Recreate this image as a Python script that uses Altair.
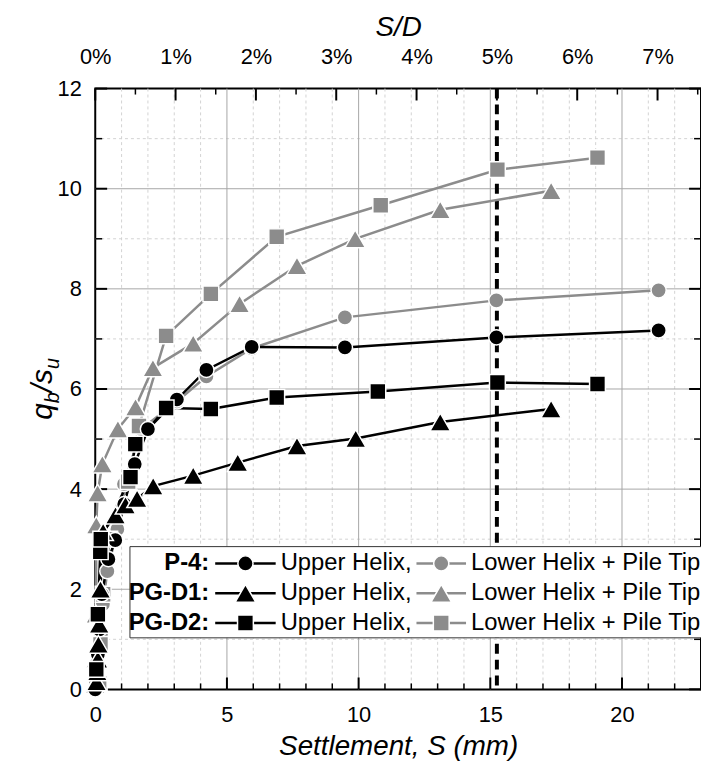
import altair as alt
import pandas as pd

# ---------------- data ----------------
D_MM = 305.0          # pile diameter used for the S/D axis
X_MAX = 23.0
Y_MAX = 12.0
SD_LINE_PCT = 5.0     # dashed reference line at S/D = 5 %

# P-4
p4_upper_s = [0.0, 0.05, 0.10, 0.16, 0.25, 0.50, 0.76, 1.10, 1.50, 2.00, 3.10, 4.22, 5.94, 9.48, 15.23, 21.39]
p4_upper_q = [0.0, 0.30, 0.70, 1.20, 1.90, 2.60, 2.98, 3.70, 4.50, 5.20, 5.79, 6.38, 6.84, 6.83, 7.03, 7.17]
p4_lower_s = [0.02, 0.10, 0.22, 0.29, 0.46, 0.84, 1.09, 1.75, 3.10, 4.22, 5.94, 9.48, 15.23, 21.39]
p4_lower_q = [0.10, 0.50, 1.10, 1.70, 2.36, 3.20, 4.10, 5.20, 5.75, 6.25, 6.81, 7.43, 7.77, 7.97]
# PG-D1
d1_upper_s = [0.05, 0.08, 0.10, 0.12, 0.15, 0.20, 0.30, 0.77, 1.15, 1.59, 2.20, 3.72, 5.41, 7.66, 9.89, 13.10, 17.31]
d1_upper_q = [0.15, 0.35, 0.60, 0.90, 1.30, 2.00, 3.15, 3.48, 3.68, 3.81, 4.06, 4.27, 4.53, 4.86, 5.01, 5.34, 5.60]
d1_lower_s = [0.00, 0.02, 0.03, 0.04, 0.09, 0.27, 0.86, 1.53, 2.19, 3.72, 5.48, 7.66, 9.87, 13.10, 17.31]
d1_lower_q = [0.10, 0.60, 1.50, 3.28, 3.92, 4.50, 5.20, 5.64, 6.42, 6.91, 7.70, 8.46, 9.00, 9.58, 9.96]
# PG-D2
d2_upper_s = [0.04, 0.10, 0.19, 0.21, 1.34, 1.52, 2.69, 4.39, 6.89, 10.73, 15.27, 19.07]
d2_upper_q = [0.40, 1.50, 2.75, 3.00, 4.24, 4.90, 5.62, 5.60, 5.83, 5.95, 6.13, 6.10]
d2_lower_s = [0.15, 0.20, 0.30, 0.55, 1.25, 1.66, 2.69, 4.39, 6.89, 10.84, 15.27, 19.07]
d2_lower_q = [0.12, 0.90, 1.90, 3.00, 4.15, 5.26, 7.06, 7.90, 9.04, 9.67, 10.38, 10.62]

piles = ["P-4", "PG-D1", "PG-D2"]
pile_shapes = ["circle", "triangle-up", "square"]
pile_sizes = [235, 430, 255]
tone_labels = {"upper": "Upper Helix,", "lower": "Lower Helix + Pile Tip"}

x_major = [0, 5, 10, 15, 20]
x_minor = [v for v in range(1, 23) if v % 5]
y_major = [0, 2, 4, 6, 8, 10, 12]
y_minor = [1, 3, 5, 7, 9, 11]
pct_major = [0, 1, 2, 3, 4, 5, 6, 7]
pct_minor = [0.5, 1.5, 2.5, 3.5, 4.5, 5.5, 6.5, 7.5]

series = [
    ("P-4", "lower", p4_lower_s, p4_lower_q),
    ("PG-D1", "lower", d1_lower_s, d1_lower_q),
    ("PG-D2", "lower", d2_lower_s, d2_lower_q),
    ("P-4", "upper", p4_upper_s, p4_upper_q),
    ("PG-D1", "upper", d1_upper_s, d1_upper_q),
    ("PG-D2", "upper", d2_upper_s, d2_upper_q),
]

rows = []
for pile, tone, s_list, q_list in series:
    for i, (s, q) in enumerate(zip(s_list, q_list)):
        rows.append({"pile": pile, "tone": tone, "series": f"{pile} {tone}", "idx": i, "S": s, "q": q})
df = pd.DataFrame(rows)

# ---------------- styling ----------------
FONT = "Liberation Sans"
BLACK = "#000000"
GRAY = "#8c8c8c"
W, H = 611, 606

x_scale = alt.Scale(domain=[0, X_MAX], nice=False, zero=False)
y_scale = alt.Scale(domain=[0, Y_MAX], nice=False, zero=False)
x_axis = alt.Axis(values=x_major, title="Settlement, S (mm)", labelFont=FONT, labelFontSize=22,
                  labelColor=BLACK, labelPadding=15, labelFlush=False, labelOverlap=False,
                  ticks=False, tickSize=0, domain=False, grid=False,
                  titleFont=FONT, titleFontSize=28, titleFontStyle="italic", titleFontWeight="normal",
                  titleColor=BLACK, titlePadding=8)
y_axis = alt.Axis(values=y_major, title=None, labelFont=FONT, labelFontSize=22, labelColor=BLACK,
                  labelPadding=14, labelOverlap=False, ticks=False, tickSize=0, domain=False, grid=False)


def X():
    return alt.X("S:Q", scale=x_scale, axis=x_axis)


def Y():
    return alt.Y("q:Q", scale=y_scale, axis=y_axis)


layers = []

# grid
layers.append(alt.Chart(pd.DataFrame({"S": x_minor})).mark_rule(color="#d2d2d2", strokeWidth=1, strokeDash=[3, 3])
              .encode(x=X(), y=alt.value(0), y2=alt.value(H)))
layers.append(alt.Chart(pd.DataFrame({"q": y_minor})).mark_rule(color="#d2d2d2", strokeWidth=1, strokeDash=[3, 3])
              .encode(y=Y(), x=alt.value(0), x2=alt.value(W)))
layers.append(alt.Chart(pd.DataFrame({"S": x_major[1:]})).mark_rule(color="#a6a6a6", strokeWidth=1)
              .encode(x=X(), y=alt.value(0), y2=alt.value(H)))
layers.append(alt.Chart(pd.DataFrame({"q": y_major[1:-1]})).mark_rule(color="#a6a6a6", strokeWidth=1)
              .encode(y=Y(), x=alt.value(0), x2=alt.value(W)))

# ticks (inward)
layers.append(alt.Chart(pd.DataFrame({"S": x_major})).mark_rule(color=BLACK, strokeWidth=2)
              .encode(x=X(), y=alt.value(H), y2=alt.value(H - 12)))
layers.append(alt.Chart(pd.DataFrame({"S": x_minor})).mark_rule(color=BLACK, strokeWidth=1.5)
              .encode(x=X(), y=alt.value(H), y2=alt.value(H - 6)))
layers.append(alt.Chart(pd.DataFrame({"q": y_major})).mark_rule(color=BLACK, strokeWidth=2)
              .encode(y=Y(), x=alt.value(0), x2=alt.value(12)))
layers.append(alt.Chart(pd.DataFrame({"q": y_minor})).mark_rule(color=BLACK, strokeWidth=1.5)
              .encode(y=Y(), x=alt.value(0), x2=alt.value(7)))
layers.append(alt.Chart(pd.DataFrame({"q": y_major})).mark_rule(color=BLACK, strokeWidth=2)
              .encode(y=Y(), x=alt.value(W), x2=alt.value(W - 12)))
layers.append(alt.Chart(pd.DataFrame({"q": y_minor})).mark_rule(color=BLACK, strokeWidth=1.5)
              .encode(y=Y(), x=alt.value(W), x2=alt.value(W - 7)))

# dashed S/D = 5% line
layers.append(alt.Chart(pd.DataFrame({"S": [SD_LINE_PCT / 100.0 * D_MM]}))
              .mark_rule(color=BLACK, strokeWidth=4, strokeDash=[10, 6])
              .encode(x=X(), y=alt.value(0), y2=alt.value(H)))

color_enc = alt.Color("tone:N", scale=alt.Scale(domain=["upper", "lower"], range=[BLACK, GRAY]), legend=None)

layers.append(alt.Chart(df).mark_line(strokeWidth=2.5)
              .encode(x=X(), y=Y(), color=color_enc, detail="series:N", order="idx:Q"))
# markers: one layer per pile (fixed shape and size), grey drawn before black
for tone in ["lower", "upper"]:
    for pile, shp, sz in zip(piles, pile_shapes, pile_sizes):
        sub = df[(df["pile"] == pile) & (df["tone"] == tone)]
        layers.append(alt.Chart(sub)
                      .mark_point(filled=True, opacity=1, stroke="white", strokeWidth=1.5, shape=shp, size=sz)
                      .encode(x=X(), y=Y(), color=color_enc))

# ---------------- custom legend ----------------
BOX_X0, BOX_Y0, BOX_Y1 = 35, 462, 554
ROW0, ROW_STEP = 479, 30
LEG_FS = 24
layers.append(alt.Chart(pd.DataFrame({"k": [0]})).mark_rect(fill="white", stroke="#333333", strokeWidth=1)
              .encode(x=alt.value(BOX_X0), x2=alt.value(W + 1), y=alt.value(BOX_Y0), y2=alt.value(BOX_Y1)))
for i, pile in enumerate(piles):
    ry = ROW0 + ROW_STEP * i
    layers.append(alt.Chart(pd.DataFrame({"t": [pile + ":"]}))
                  .mark_text(align="right", baseline="middle", font=FONT, fontSize=LEG_FS, fontWeight="bold", color=BLACK)
                  .encode(x=alt.value(115), y=alt.value(ry), text="t:N"))
    for tone, x0, x1, col in [("upper", 121, 182, BLACK), ("lower", 324, 374, GRAY)]:
        layers.append(alt.Chart(pd.DataFrame({"k": [0]})).mark_rule(color=col, strokeWidth=2.5)
                      .encode(x=alt.value(x0), x2=alt.value(x1), y=alt.value(ry)))
        layers.append(alt.Chart(pd.DataFrame({"k": [0]}))
                      .mark_point(filled=True, opacity=1, stroke="white", strokeWidth=1.5, color=col,
                                  shape=pile_shapes[i], size=pile_sizes[i])
                      .encode(x=alt.value((x0 + x1) / 2), y=alt.value(ry)))
        layers.append(alt.Chart(pd.DataFrame({"t": [tone_labels[tone]]}))
                      .mark_text(align="left", baseline="middle", font=FONT, fontSize=LEG_FS, color=BLACK)
                      .encode(x=alt.value(x1 + 5), y=alt.value(ry), text="t:N"))

# ---------------- y-axis title q_b/s_u (rotated, with subscripts) ----------------
TX = -44
pieces = [("q", 30, -31, 0), ("b", 20, -14.3, 7), ("/", 30, -3.2, 0), ("s", 30, 5.1, 0), ("u", 20, 20.1, 7)]
for txt, fs, dx, dy in pieces:
    layers.append(alt.Chart(pd.DataFrame({"t": [txt]}))
                  .mark_text(angle=270, align="left", baseline="alphabetic", font=FONT, fontSize=fs,
                             fontStyle="italic", color=BLACK, dx=dx, dy=dy)
                  .encode(x=alt.value(TX), y=alt.value(H / 2), text="t:N"))

inner = alt.layer(*layers)

# ---------------- top S/D axis ----------------
pct_scale = alt.Scale(domain=[0, X_MAX / D_MM * 100.0], nice=False, zero=False)
pct_axis = alt.Axis(orient="top", values=pct_major, labelExpr="datum.value + '%'", title="S/D",
                    labelFont=FONT, labelFontSize=22, labelColor=BLACK, labelPadding=20, labelFlush=False,
                    labelOverlap=False, ticks=False, tickSize=0, domain=False, grid=False,
                    titleFont=FONT, titleFontSize=28, titleFontStyle="italic", titleFontWeight="normal",
                    titleColor=BLACK, titlePadding=5)
top_major = alt.Chart(pd.DataFrame({"pct": pct_major})).mark_rule(color=BLACK, strokeWidth=2).encode(
    x=alt.X("pct:Q", scale=pct_scale, axis=pct_axis), y=alt.value(0), y2=alt.value(12))
top_minor = alt.Chart(pd.DataFrame({"pct": pct_minor})).mark_rule(color=BLACK, strokeWidth=1.5).encode(
    x=alt.X("pct:Q", scale=pct_scale, axis=pct_axis), y=alt.value(0), y2=alt.value(6))
top = alt.layer(top_major, top_minor)

chart = (
    alt.layer(inner, top)
    .resolve_scale(x="independent")
    .properties(width=W, height=H, padding={"left": 88, "top": 78, "right": 0, "bottom": 75},
                autosize=alt.AutoSizeParams(type="none"), background="white")
    .configure_view(stroke=BLACK, strokeWidth=2)
)

chart.save("out.html", embed_options={"renderer": "svg", "actions": False})
